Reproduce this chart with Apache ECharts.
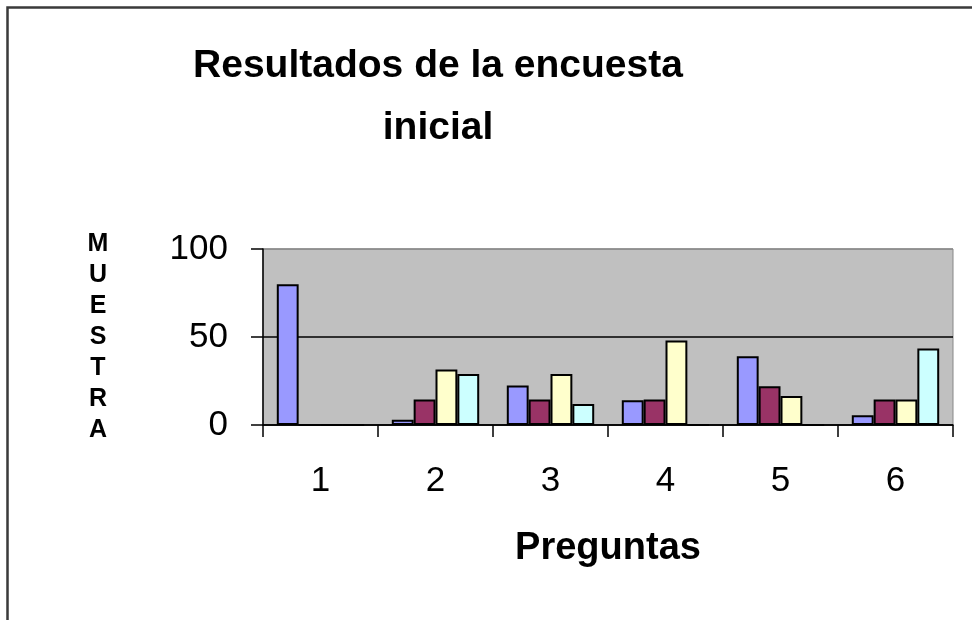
<!DOCTYPE html>
<html>
<head>
<meta charset="utf-8">
<script src="https://cdn.jsdelivr.net/npm/echarts@6/dist/echarts.min.js"></script>
<style>html,body{margin:0;padding:0;background:#fff}#c{width:972px;height:620px}</style>
</head>
<body>
<div id="c"></div>
<script>
const categories = ['1', '2', '3', '4', '5', '6'];
const serie1 = [80, 3, 22.5, 14, 39, 5.5];
const serie2 = [0, 14.5, 14.5, 14.5, 22, 14.5];
const serie3 = [0, 31.5, 29, 48, 16.5, 14.5];
const serie4 = [0, 29, 12, 0, 0, 43.5];
const seriesColors = ['#9999ff', '#993366', '#ffffcc', '#ccffff'];
const titleText = 'Resultados de la encuesta\ninicial';
const xName = 'Preguntas';
const yName = 'M\nU\nE\nS\nT\nR\nA';

const FONT = '"Liberation Sans", Arial, sans-serif';
const chart = echarts.init(document.getElementById('c'), null, {renderer: 'canvas'});
const mk = (name, data, i) => ({
  name, type: 'bar', data,
  barGap: '0%', barCategoryGap: '24%',
  itemStyle: {color: seriesColors[i], borderColor: '#000', borderWidth: 2},
  emphasis: {disabled: true}
});
chart.setOption({
  animation: false,
  backgroundColor: '#fff',
  graphic: [{
    type: 'rect', left: 5, top: 5, z: 100,
    shape: {x: 0, y: 0, width: 1000, height: 700},
    style: {fill: null, stroke: '#3a3a3a', lineWidth: 2.5}
  }],
  title: {
    text: titleText, left: 438, top: 35, textAlign: 'center', padding: 0,
    textStyle: {fontFamily: FONT, fontSize: 39, fontWeight: 'bold', color: '#000', lineHeight: 62}
  },
  grid: {left: 263, right: 19, top: 249, bottom: 195, show: true,
    backgroundColor: '#c0c0c0', borderColor: '#888', borderWidth: 1},
  xAxis: {
    type: 'category', data: categories,
    name: xName, nameLocation: 'middle', nameGap: 105,
    nameTextStyle: {fontFamily: FONT, fontSize: 38, fontWeight: 'bold', color: '#000'},
    axisLine: {lineStyle: {color: '#000', width: 1.5}},
    axisTick: {show: true, length: 12, inside: false, alignWithLabel: false, lineStyle: {color: '#000', width: 1.5}},
    axisLabel: {fontFamily: FONT, fontSize: 35, color: '#000', margin: 39}
  },
  yAxis: {
    type: 'value', min: 0, max: 100, interval: 50,
    name: yName, nameLocation: 'middle', nameGap: 165, nameRotate: 0,
    nameTextStyle: {fontFamily: FONT, fontSize: 25, fontWeight: 'bold', color: '#000', lineHeight: 31, align: 'center', verticalAlign: 'middle'},
    axisLine: {show: true, lineStyle: {color: '#000', width: 1.5}},
    axisTick: {show: true, length: 12, lineStyle: {color: '#000', width: 1.5}},
    axisLabel: {fontFamily: FONT, fontSize: 35, color: '#000', margin: 35},
    splitLine: {show: true, lineStyle: {color: ['#000', '#000', '#888'], width: 1.5}}
  },
  series: [mk('Serie1', serie1, 0), mk('Serie2', serie2, 1), mk('Serie3', serie3, 2), mk('Serie4', serie4, 3)]
});
</script>
</body>
</html>
